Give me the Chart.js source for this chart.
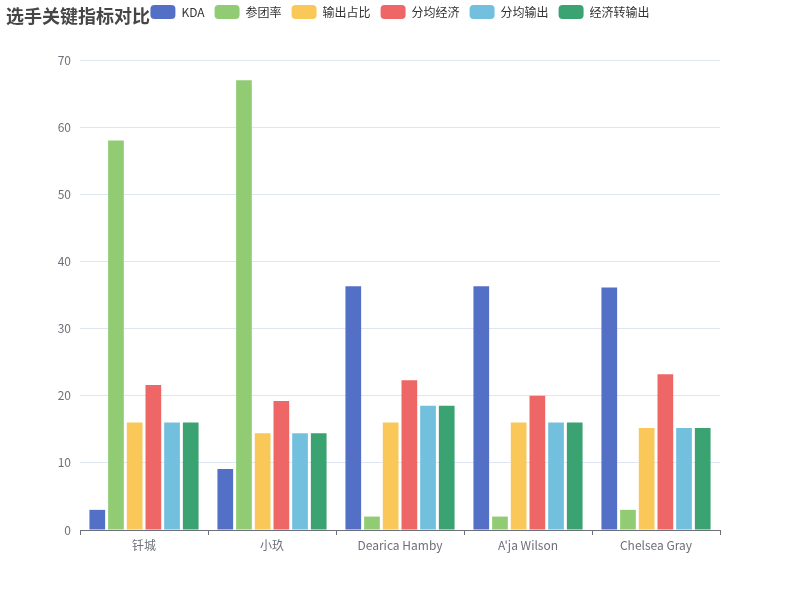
<!DOCTYPE html>
<html>
<head>
<meta charset="utf-8">
<script src="https://cdn.jsdelivr.net/npm/chart.js@4"></script>
<style>
  body { margin: 0; background: #fff; }
  #wrap { position: relative; width: 800px; height: 600px; }
  #title { position: absolute; left: 6px; top: 2px; font: bold 18px "Noto Sans CJK SC", sans-serif; color: #464646; }
</style>
</head>
<body>
<div id="wrap">
  <canvas id="myChart" width="800" height="600"></canvas>
  <div id="title">选手关键指标对比</div>
</div>
<script>
const players = ['钎城', '小玖', 'Dearica Hamby', "A'ja Wilson", 'Chelsea Gray'];
const kda = [3, 9.1, 36.3, 36.3, 36.1];
const canTuan = [58, 67, 2, 2, 3];
const shuChuZhanBi = [16, 14.4, 16, 16, 15.2];
const fenJunJingJi = [21.6, 19.2, 22.3, 20, 23.2];
const fenJunShuChu = [16, 14.4, 18.5, 16, 15.2];
const jingJiZhuan = [16, 14.4, 18.5, 16, 15.2];
const yTicks = [0, 10, 20, 30, 40, 50, 60, 70];

const font = "'Noto Sans CJK SC', sans-serif";

// legend sits on the title line, push the plot down to y=60
// and center it over the whole canvas, not just the padded box
const legendHeight = {
    id: 'legendHeight',
    beforeInit(chart) {
        const fit = chart.legend.fit;
        chart.legend.fit = function () {
            fit.bind(chart.legend)();
            this.height = 65;
        };
    },
    afterLayout(chart) {
        chart.legend.left = 0;
        chart.legend.right = chart.width;
        chart.legend.width = chart.width;
    }
};

function ds(label, data, color) {
    return {
        label: label,
        data: data,
        backgroundColor: color,
        borderColor: color,
        borderWidth: 0,
        categoryPercentage: 0.876,
        barPercentage: 0.84
    };
}

const data = {
    labels: players,
    datasets: [
        ds('KDA', kda, '#5470c6'),
        ds('参团率', canTuan, '#91cc75'),
        ds('输出占比', shuChuZhanBi, '#fac858'),
        ds('分均经济', fenJunJingJi, '#ee6666'),
        ds('分均输出', fenJunShuChu, '#73c0de'),
        ds('经济转输出', jingJiZhuan, '#3ba272')
    ]
};

const config = {
    type: 'bar',
    data,
    options: {
        responsive: false,
        animation: false,
        layout: { padding: { top: -5, right: 80, bottom: 40, left: 0 } },
        plugins: {
            title: { display: false },
            tooltip: { enabled: false },
            legend: {
                position: 'top',
                labels: {
                    boxWidth: 25,
                    boxHeight: 14,
                    padding: 10,
                    useBorderRadius: true,
                    borderRadius: 4,
                    color: '#333',
                    font: { family: font, size: 12 }
                }
            }
        },
        scales: {
            x: {
                grid: {
                    offset: true,
                    drawOnChartArea: false,
                    drawTicks: true,
                    tickLength: 5,
                    color: '#6E7079'
                },
                border: { color: '#6E7079' },
                ticks: {
                    color: '#6E7079',
                    padding: 3,
                    font: { family: font, size: 12 }
                },
                afterFit: function (scale) { scale.height = 30; }
            },
            y: {
                min: 0,
                max: 70,
                afterBuildTicks: function (scale) {
                    scale.ticks = yTicks.map(v => ({ value: v }));
                },
                grid: { color: '#E0E6F1', drawTicks: false },
                border: { display: false },
                ticks: {
                    color: '#6E7079',
                    padding: 9,
                    font: { family: font, size: 12 }
                },
                afterFit: function (scale) { scale.width = 80; }
            }
        }
    },
    plugins: [legendHeight]
};

const myChart = new Chart(document.getElementById('myChart'), config);
</script>
</body>
</html>
